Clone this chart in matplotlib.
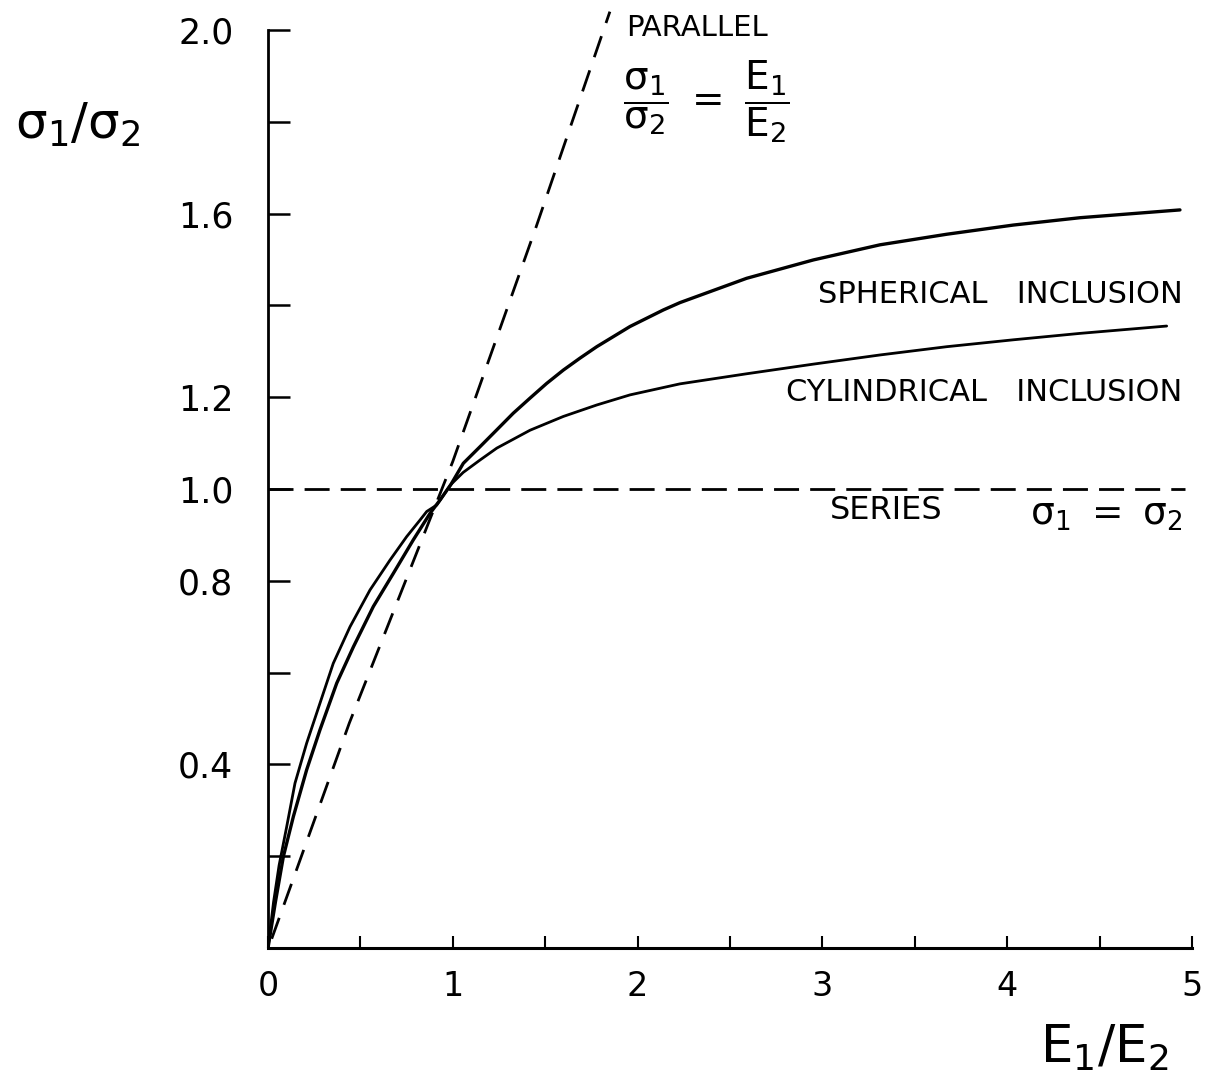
import matplotlib
matplotlib.use('Agg')
import matplotlib.pyplot as plt
import numpy as np

# values
sph_x = [0, 0.04, 0.083, 0.137, 0.209, 0.281, 0.372, 0.462, 0.570, 0.678, 0.786,
         0.877, 0.931, 0.99, 1.057, 1.147, 1.236, 1.327, 1.418, 1.508, 1.598,
         1.688, 1.779, 1.869, 1.959, 2.139, 2.229, 2.590, 2.951, 3.312, 3.673,
         4.033, 4.394, 4.935]
sph_y = [0, 0.10, 0.199, 0.286, 0.388, 0.475, 0.577, 0.656, 0.744, 0.816, 0.889,
         0.947, 0.976, 1.01, 1.056, 1.092, 1.128, 1.165, 1.198, 1.230, 1.259,
         1.285, 1.310, 1.332, 1.354, 1.390, 1.406, 1.459, 1.499, 1.532, 1.555,
         1.575, 1.591, 1.608]

cyl_x = [0, 0.03, 0.06, 0.101, 0.146, 0.209, 0.281, 0.353, 0.444, 0.552, 0.660,
         0.750, 0.822, 0.859, 0.913, 0.99, 1.056, 1.147, 1.238, 1.418, 1.598,
         1.779, 1.959, 2.229, 2.590, 2.951, 3.312, 3.673, 4.033, 4.394, 4.863]
cyl_y = [0, 0.10, 0.18, 0.264, 0.359, 0.446, 0.533, 0.620, 0.700, 0.780, 0.845,
         0.896, 0.932, 0.951, 0.965, 1.01, 1.036, 1.063, 1.089, 1.128, 1.158,
         1.183, 1.205, 1.229, 1.251, 1.272, 1.292, 1.310, 1.325, 1.339, 1.355]

par_x = [0.02, 0.44, 1.0, 1.45, 1.85]
par_y = [0.02, 0.49, 1.06, 1.57, 2.04]

ser_x = [0, 4.96]
ser_y = [1.0, 1.0]

x_ticks = np.arange(0, 5.01, 0.5)
x_labels = ['0', '', '1', '', '2', '', '3', '', '4', '', '5']
y_ticks = np.arange(0.2, 2.01, 0.2)
y_labels = ['', '0.4', '', '0.8', '1.0', '1.2', '', '1.6', '', '2.0']

fig = plt.figure(figsize=(12.1, 10.83), dpi=100)
ax = fig.add_axes([0.2215, 0.1247, 0.7636, 0.8476])

ax.plot(sph_x, sph_y, color='black', lw=2.4, solid_capstyle='round', solid_joinstyle='round')
ax.plot(cyl_x, cyl_y, color='black', lw=2.0, solid_capstyle='round', solid_joinstyle='round')
ax.plot(par_x, par_y, color='black', lw=2.0, dashes=(8, 5), clip_on=False)
ax.plot(ser_x, ser_y, color='black', lw=2.0, dashes=(9, 4))

ax.set_xlim(0, 5)
ax.set_ylim(0, 2.0)
ax.spines['top'].set_visible(False)
ax.spines['right'].set_visible(False)
ax.spines['left'].set_linewidth(2)
ax.spines['bottom'].set_linewidth(2.2)

ax.set_xticks(x_ticks)
ax.set_xticklabels(x_labels)
ax.set_yticks(y_ticks)
ax.set_yticklabels(y_labels)
ax.tick_params(axis='x', direction='in', length=9, width=1.5, pad=16, labelsize=24)
ax.tick_params(axis='y', direction='in', length=16, width=1.8, pad=25, labelsize=25)

# annotations
ax.text(4.95, 1.423, 'SPHERICAL   INCLUSION', ha='right', va='center', fontsize=22)
ax.text(4.95, 1.211, 'CYLINDRICAL   INCLUSION', ha='right', va='center', fontsize=22)
ax.text(3.04, 0.954, 'SERIES', ha='left', va='center', fontsize=23)
ax.text(4.95, 0.943, r'$\mathregular{\sigma_1\ =\ \sigma_2}$', ha='right', va='center', fontsize=27)
ax.text(1.94, 2.004, 'PARALLEL', ha='left', va='center', fontsize=21, clip_on=False)
ax.text(2.37, 1.845, r'$\mathregular{\dfrac{\sigma_1}{\sigma_2}\ =\ \dfrac{E_1}{E_2}}$',
        ha='center', va='center', fontsize=28, clip_on=False)

fig.text(0.064, 0.885, r'$\mathregular{\sigma_1/\sigma_2}$', ha='center', va='center', fontsize=36)
fig.text(0.913, 0.032, r'$\mathregular{E_1/E_2}$', ha='center', va='center', fontsize=37)

fig.savefig('out.png', dpi=100)
